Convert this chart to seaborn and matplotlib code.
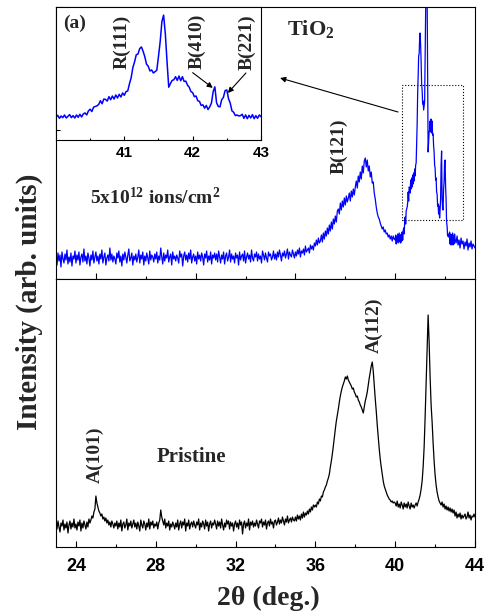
"""XRD patterns of TiO2: pristine film and after 5x10^12 ions/cm^2 irradiation."""

import numpy as np
import pandas as pd
import matplotlib

matplotlib.use("Agg")
import matplotlib.pyplot as plt
import seaborn as sns
from matplotlib.patches import Rectangle


# 2-theta sampling of the scans (deg.): 0.05 steps, 0.025 inside the zoomed window
IRR_LO = (23.0, 39.99, 0.05)
IRR_WINDOW = (40.0, 42.99, 0.025)
IRR_HI = (43.0, 44.01, 0.05)
PRISTINE_GRID = (23.0, 44.01, 0.05)

# irradiated scan, 23.00 .. 39.95 deg (one row per degree, arb. units)
irr_low = [
    21, 14, 26, 18, 24, 12, 27, 20, 16, 25, 19, 29, 15, 22, 17, 26, 13, 23, 20, 28,
    16, 24, 19, 27, 14, 22, 25, 17, 30, 18, 23, 15, 26, 21, 13, 24, 19, 28, 16, 22,
    27, 18, 23, 15, 25, 20, 29, 16, 22, 26, 14, 21, 24, 18, 31, 19, 25, 17, 23, 20,
    15, 26, 21, 28, 17, 23, 13, 25, 19, 27, 22, 16, 24, 30, 18, 21, 26, 14, 23, 19,
    25, 17, 22, 29, 16, 24, 20, 27, 14, 23, 18, 26, 21, 15, 28, 19, 24, 22, 17, 25,
    20, 27, 16, 23, 19, 31, 22, 15, 26, 18, 24, 21, 29, 17, 22, 25, 14, 27, 20, 23,
    18, 24, 21, 16, 28, 22, 25, 13, 23, 27, 19, 24, 17, 26, 20, 29, 16, 22, 25, 18,
    23, 15, 27, 20, 24, 18, 26, 22, 14, 25, 21, 28, 17, 23, 19, 27, 15, 24, 21, 26,
    19, 25, 17, 28, 22, 16, 24, 20, 27, 15, 23, 26, 18, 22, 29, 17, 25, 20, 23, 16,
    26, 21, 24, 14, 27, 19, 23, 25, 18, 28, 16, 22, 26, 20, 24, 17, 29, 21, 18, 25,
    22, 27, 18, 25, 20, 23, 16, 28, 24, 19, 26, 21, 17, 27, 23, 25, 19, 22, 28, 20,
    25, 19, 27, 22, 29, 24, 18, 26, 23, 28, 21, 25, 30, 20, 27, 24, 22, 29, 25, 21,
    27, 23, 29, 25, 31, 22, 28, 26, 30, 24, 33, 27, 29, 31, 26, 34, 30, 33, 29, 36,
    33, 39, 34, 41, 36, 38, 44, 37, 46, 40, 48, 43, 51, 45, 54, 48, 57, 50, 60, 55,
    63, 57, 68, 70, 65, 76, 69, 78, 72, 81, 74, 83, 77, 81, 86, 78, 88, 82, 90, 84,
    92, 98, 91, 103, 97, 107, 100, 113, 106, 118, 121, 112, 119, 108, 113, 102, 107, 96, 97, 86,
    80, 72, 66, 62, 60, 56, 53, 50, 52, 47, 49, 45, 46, 42, 44, 40, 43, 38, 43, 40,
]
# irradiated scan, 40.000 .. 42.975 deg (shown in the inset)
irr_window = [
    39, 44, 35, 42, 37, 45, 36, 41, 46, 37,
    43, 36, 45, 38, 47, 39, 48, 51, 45, 57,
    62, 55, 68, 70, 72, 76, 87, 78, 92, 91,
    86, 99, 90, 101, 92, 104, 95, 106, 98, 110,
    103, 114, 116, 137, 155, 185, 202, 223, 225, 241,
    246, 233, 217, 195, 189, 175, 178, 169, 173, 177,
    218, 262, 321, 340, 285, 203, 127, 138, 147, 149,
    158, 147, 160, 146, 158, 144, 145, 133, 127, 114,
    111, 99, 101, 87, 85, 73, 75, 65, 73, 61,
    69, 80, 114, 128, 81, 70, 69, 90, 97, 117,
    119, 93, 80, 57, 53, 43, 45, 42, 43, 47,
    35, 45, 34, 44, 36, 46, 34, 43, 35, 45,
]
# irradiated scan, 43.00 .. 44.00 deg
irr_high = [40, 36, 43, 34, 39, 31, 41, 35, 38, 30, 37, 33, 40, 29, 36, 32, 38, 30, 35, 33, 31]

# pristine scan, 23.00 .. 44.00 deg
pristine = [
    22, 18, 26, 20, 15, 24, 21, 27, 17, 23, 19, 25, 14, 22, 26, 18, 24, 20, 28, 19,
    23, 17, 25, 21, 27, 16, 24, 19, 26, 22, 18, 25, 20, 28, 24, 27, 31, 29, 35, 38,
    51, 44, 40, 36, 34, 31, 33, 28, 30, 26, 29, 24, 27, 22, 25, 20, 26, 23, 19, 24,
    21, 26, 18, 24, 20, 27, 16, 23, 25, 19, 22, 28, 17, 24, 21, 26, 19, 23, 27, 20,
    24, 18, 25, 21, 16, 27, 22, 19, 26, 23, 17, 24, 20, 28, 18, 25, 22, 26, 19, 23,
    21, 25, 18, 24, 27, 37, 30, 26, 22, 28, 19, 24, 21, 26, 17, 23, 20, 25, 22, 18,
    24, 20, 27, 17, 23, 26, 19, 25, 22, 28, 16, 24, 21, 27, 18, 23, 25, 20, 26, 22,
    19, 25, 22, 28, 17, 24, 20, 26, 23, 18, 27, 21, 25, 16, 23, 26, 19, 24, 22, 27,
    23, 18, 26, 21, 25, 19, 28, 22, 17, 24, 20, 27, 23, 26, 18, 25, 21, 24, 16, 23,
    26, 20, 24, 18, 27, 22, 25, 13, 23, 26, 19, 24, 21, 28, 17, 25, 22, 26, 20, 24,
    21, 27, 23, 19, 26, 24, 28, 20, 25, 22, 27, 18, 24, 26, 21, 28, 23, 25, 19, 26,
    27, 22, 25, 29, 23, 27, 24, 30, 26, 22, 28, 25, 31, 24, 27, 29, 25, 30, 27, 26,
    30, 26, 32, 28, 31, 27, 33, 29, 35, 30, 34, 32, 36, 33, 38, 35, 40, 37, 42, 40,
    42, 40, 45, 43, 48, 46, 51, 50, 55, 57, 60, 62, 66, 69, 73, 80, 86, 93, 101, 110,
    118, 126, 132, 138, 145, 151, 156, 160, 163, 166, 170, 168, 171, 167, 165, 163, 161, 158, 159, 155,
    153, 150, 151, 147, 145, 142, 140, 137, 134, 140, 146, 150, 155, 162, 169, 175, 181, 185, 176, 162,
    148, 136, 122, 110, 98, 88, 80, 73, 66, 61, 58, 55, 52, 50, 48, 47, 45, 46, 44, 45,
    44, 41, 46, 40, 43, 39, 45, 42, 38, 44, 40, 43, 39, 45, 41, 38, 44, 40, 42, 39,
    42, 44, 41, 45, 48, 52, 58, 66, 80, 100, 130, 165, 200, 232, 205, 170, 142, 125, 104, 86,
    72, 62, 55, 50, 46, 44, 42, 45, 40, 43, 38, 41, 37, 40, 36, 39, 35, 38, 34, 37,
    31, 35, 29, 33, 30, 34, 28, 32, 29, 31, 33, 28, 30, 35, 29, 32, 27, 31, 30, 33,
    30,
]

ZOOM_BOX = (40.33, 43.38, 59, 194)  # x0, x1, y0, y1 of the dotted window

SERIF = ["Liberation Serif", "DejaVu Serif"]
SANS = ["Liberation Sans", "DejaVu Sans"]


def _grid(spec):
    lo, hi, step = spec
    return np.round(np.arange(lo, hi, step), 3)


def _bold_ticklabels(ax, size):
    for label in ax.get_xticklabels():
        label.set_fontfamily(SANS)
        label.set_fontweight("bold")
        label.set_fontsize(size)


def _label(ax, x, y, text, size=14, **kw):
    ax.text(x, y, text, fontsize=size, fontweight="bold", fontfamily=SERIF, **kw)


def _arrow(ax, start, end):
    ax.annotate("", xy=end, xytext=start,
                arrowprops=dict(arrowstyle="-|>", color="black", lw=0.8,
                                mutation_scale=8, shrinkA=0, shrinkB=0))


sns.set_theme(style="ticks")
plt.rcParams.update({
    "font.family": SERIF,
    "mathtext.fontset": "custom",
    "mathtext.rm": "Liberation Serif:bold",
    "mathtext.bf": "Liberation Serif:bold",
    "mathtext.default": "bf",
    "axes.edgecolor": "black",
    "axes.linewidth": 0.8,
    "xtick.color": "black",
    "ytick.color": "black",
    "xtick.major.width": 0.8,
    "xtick.minor.width": 0.8,
    "ytick.major.width": 0.8,
})

irr = pd.DataFrame({
    "two_theta": np.concatenate([_grid(IRR_LO), _grid(IRR_WINDOW), _grid(IRR_HI)]),
    "intensity": irr_low + irr_window + irr_high,
})
pri = pd.DataFrame({"two_theta": _grid(PRISTINE_GRID), "intensity": pristine})

fig = plt.figure(figsize=(4.89, 6.14), dpi=100)
ax_top = fig.add_axes([0.1145, 0.5456, 0.8569, 0.4430])
ax_bot = fig.add_axes([0.1145, 0.1091, 0.8569, 0.4365])
ax_in = fig.add_axes([0.1145, 0.7720, 0.4192, 0.2166])
ax_in.set_zorder(3)
ax_in.set_facecolor("white")

sns.lineplot(data=irr, x="two_theta", y="intensity", ax=ax_top, color="blue", linewidth=0.9, errorbar=None)
sns.lineplot(data=pri, x="two_theta", y="intensity", ax=ax_bot, color="black", linewidth=0.9, errorbar=None)
sns.lineplot(data=irr, x="two_theta", y="intensity", ax=ax_in, color="blue", linewidth=1.1, errorbar=None)

for ax in (ax_top, ax_bot, ax_in):
    ax.set_xlabel("")
    ax.set_ylabel("")
    for side in ("top", "right", "left", "bottom"):
        ax.spines[side].set_visible(True)

# top panel (irradiated)
ax_top.set_xlim(23, 44)
ax_top.set_ylim(0, 272)
ax_top.set_xticks([25, 30, 35, 40])
ax_top.set_xticks([27.5, 32.5, 37.5, 42.5], minor=True)
ax_top.set_yticks([0])
ax_top.tick_params(axis="x", which="major", direction="inout", length=8.5, labelbottom=False)
ax_top.tick_params(axis="x", which="minor", direction="inout", length=4.3)
ax_top.tick_params(axis="y", direction="in", length=3, labelleft=False)

# bottom panel (pristine)
ax_bot.set_xlim(23, 44)
ax_bot.set_ylim(0, 268)
ax_bot.set_xticks([24, 28, 32, 36, 40, 44])
ax_bot.set_xticks([26, 30, 34, 38, 42], minor=True)
ax_bot.set_yticks([])
ax_bot.tick_params(axis="x", which="major", direction="in", length=4, pad=8)
ax_bot.tick_params(axis="x", which="minor", direction="in", length=2.2)
_bold_ticklabels(ax_bot, 13)

# inset: zoom of the 40-43 deg window
ax_in.set_xlim(40, 43)
ax_in.set_ylim(-29, 364)
ax_in.set_xticks([41, 42, 43])
ax_in.set_xticks([40.5, 41.5, 42.5], minor=True)
ax_in.set_yticks([0])
ax_in.tick_params(axis="x", which="major", direction="in", length=3, pad=4.5)
ax_in.tick_params(axis="x", which="minor", direction="in", length=1.6)
ax_in.tick_params(axis="y", direction="in", length=3, labelleft=False)
_bold_ticklabels(ax_in, 11)

x0, x1, y0, y1 = ZOOM_BOX
ax_top.add_patch(Rectangle((x0, y0), x1 - x0, y1 - y0, fill=False, linestyle=":", linewidth=0.8, edgecolor="black"))
_arrow(ax_top, (40.14, 167), (34.23, 201))

_label(ax_top, 34.58, 250, "TiO$_2$", size=16, ha="left", va="center")
_label(ax_top, 24.70, 75, "5x10$^{12}$ ions/cm$^2$", size=14, ha="left", va="baseline")
_label(ax_top, 37.19, 133, "B(121)", rotation=90, ha="center", va="center")

_label(ax_in, 40.1, 316, "(a)", ha="left", va="center")
_label(ax_in, 40.963, 261, "R(111)", rotation=90, ha="center", va="center")
_label(ax_in, 42.06, 264, "B(410)", rotation=90, ha="center", va="center")
_label(ax_in, 42.79, 261, "B(221)", rotation=90, ha="center", va="center")
_arrow(ax_in, (42.0, 170), (42.294, 125))
_arrow(ax_in, (42.78, 169), (42.515, 110))

_label(ax_bot, 29.77, 90.5, "Pristine", size=15, ha="center", va="center")
_label(ax_bot, 24.95, 92, "A(101)", rotation=90, ha="center", va="center")
_label(ax_bot, 38.97, 222, "A(112)", rotation=90, ha="center", va="center")

fig.text(0.0593, 0.508, "Intensity (arb. units)", rotation=90, ha="center", va="center",
         fontsize=21, fontweight="bold", fontfamily=SERIF)
fig.text(0.548, 0.026, "2\u03b8 (deg.)", ha="center", va="center",
         fontsize=20, fontweight="bold", fontfamily=SERIF)

fig.savefig("out.png", dpi=100)
